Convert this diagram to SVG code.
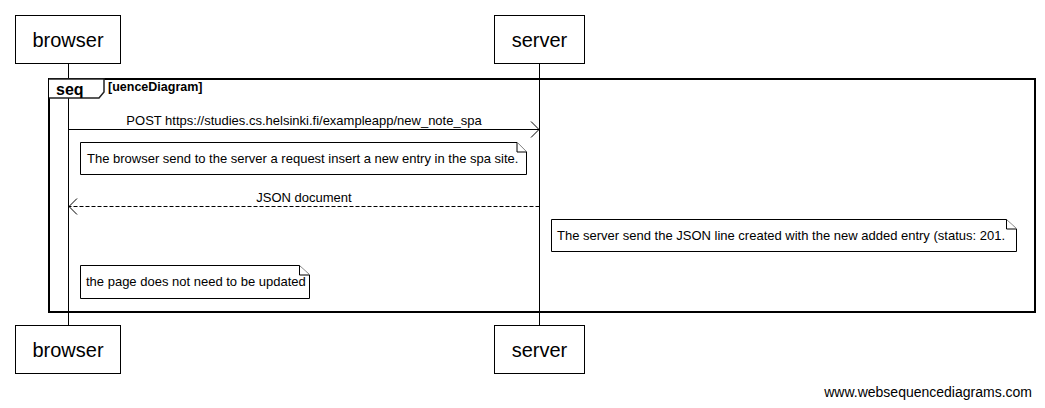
<svg xmlns="http://www.w3.org/2000/svg" width="1045" height="408" viewBox="0 0 1045 408">
<style>
text{font-family:"Liberation Sans",Arial,sans-serif;fill:#000}
.pbox{fill:#fff;stroke:#000;stroke-width:1}
.pname{font-size:20px;text-anchor:middle}
.life{stroke:#000;stroke-width:1;fill:none}
.msg{stroke:#000;stroke-width:1;fill:none}
.dash{stroke-dasharray:4,2}
.mtext{font-size:13px;text-anchor:middle}
.note{fill:#fff;stroke:#000;stroke-width:1}
.fold{fill:#fff;stroke:#000;stroke-width:1}
.ntext{font-size:13px}
</style>
<defs>
<marker id="open" markerWidth="10" markerHeight="18" refX="9" refY="9" orient="auto" markerUnits="userSpaceOnUse">
<path d="M1,1 L9,9 L1,17" fill="none" stroke="#000" stroke-width="1"/>
</marker>
</defs>
<g id="lifelines">
<line class="life" x1="68.5" y1="64" x2="68.5" y2="326"/>
<line class="life" x1="539.5" y1="64" x2="539.5" y2="326"/>
</g>
<g id="frame">
<rect x="49" y="79" width="986" height="233" fill="none" stroke="#000" stroke-width="2"/>
<path d="M49,79 L104,79 L104,92 L99,98 L49,98" fill="#fff" stroke="#222" stroke-width="1.5"/>
<text x="56" y="95" style="font-size:16px;font-weight:bold">seq</text>
<text x="108" y="91" style="font-size:12.5px;font-weight:bold">[uenceDiagram]</text>
</g>
<g id="browser-top"><rect class="pbox" x="15.5" y="15.5" width="105" height="48"/><text class="pname" x="68" y="47">browser</text></g>
<g id="server-top"><rect class="pbox" x="494.5" y="15.5" width="90" height="48"/><text class="pname" x="539.5" y="47">server</text></g>
<g id="browser-bottom"><rect class="pbox" x="15.5" y="325.5" width="105" height="48"/><text class="pname" x="68" y="357">browser</text></g>
<g id="server-bottom"><rect class="pbox" x="494.5" y="325.5" width="90" height="48"/><text class="pname" x="539.5" y="357">server</text></g>
<g id="connectors">
<line class="msg" x1="68.5" y1="129.5" x2="539" y2="129.5" marker-end="url(#open)"/>
<text class="mtext" x="304" y="125">POST https://studies.cs.helsinki.fi/exampleapp/new_note_spa</text>
<line class="msg dash" x1="539.5" y1="206.5" x2="69" y2="206.5" marker-end="url(#open)"/>
<text class="mtext" x="304" y="202">JSON document</text>
</g>
<g id="note1">
<path class="note" d="M80.5,142.5 L517,142.5 L526.5,152 L526.5,174.5 L80.5,174.5 Z"/>
<path class="fold" d="M517,142.5 L517,152 L526.5,152"/>
<text class="ntext" x="87" y="163">The browser send to the server a request insert a new entry in the spa site.</text>
</g>
<g id="note2">
<path class="note" d="M551.5,219.5 L1006.5,219.5 L1016.5,229 L1016.5,251.5 L551.5,251.5 Z"/>
<path class="fold" d="M1006.5,219.5 L1006.5,229 L1016.5,229"/>
<text class="ntext" x="557" y="240">The server send the JSON line created with the new added entry (status: 201.</text>
</g>
<g id="note3">
<path class="note" d="M80.5,265.5 L299.5,265.5 L309.5,275 L309.5,298.5 L80.5,298.5 Z"/>
<path class="fold" d="M299.5,265.5 L299.5,275 L309.5,275"/>
<text class="ntext" x="86" y="286">the page does not need to be updated</text>
</g>
<text x="1032" y="397" style="font-size:14px;text-anchor:end">www.websequencediagrams.com</text>
</svg>
